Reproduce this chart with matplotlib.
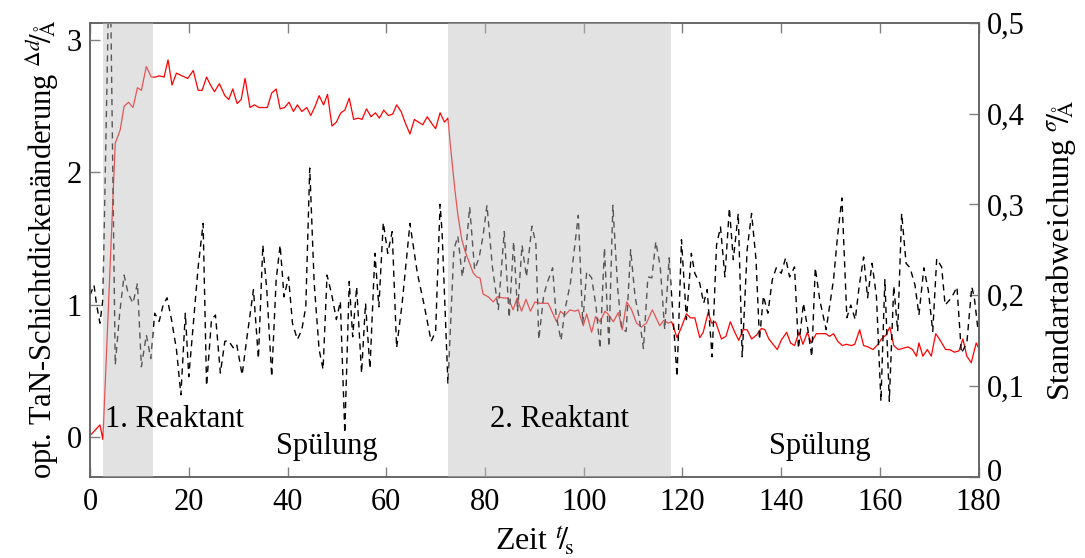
import matplotlib
matplotlib.use('Agg')
import matplotlib.pyplot as plt
from matplotlib.transforms import ScaledTranslation

plt.rcParams['font.family'] = 'serif'
plt.rcParams['font.serif'] = ['Liberation Serif', 'DejaVu Serif']
plt.rcParams['mathtext.fontset'] = 'stix'

# optische Schichtdickenaenderung (linke Achse)
t_dick = [0.0, 2.0, 2.6, 5.1, 6.1, 6.9, 7.8, 8.7, 9.6, 10.4, 11.4, 12.4, 13.2, 14.0, 15.0,
          15.8, 16.6, 17.5, 18.6, 19.8, 20.9, 21.9, 22.7, 23.6, 24.4, 25.2, 26.2, 27.3, 28.1,
          28.9, 29.8, 30.6, 31.4, 32.4, 33.3, 34.2, 35.0, 35.9, 36.8, 37.7, 38.5, 39.4, 40.3,
          41.2, 42.0, 42.9, 43.9, 44.7, 45.6, 46.4, 47.3, 48.1, 49.0, 49.9, 50.8, 51.6, 52.5,
          53.4, 54.3, 55.1, 56.0, 56.9, 57.8, 58.6, 59.5, 60.4, 61.3, 62.1, 63.0, 63.9, 64.8,
          65.7, 66.5, 67.4, 68.3, 69.2, 70.0, 70.9, 71.8, 72.5,
          73.0, 73.5, 73.9, 74.5, 75.3, 76.0, 76.6, 77.6, 78.3, 79.0, 79.6, 80.6, 81.7, 82.5,
          83.7, 84.7, 85.7, 86.5, 87.4, 88.3, 89.2, 90.1, 91.1, 92.8, 94.5, 95.3, 96.2, 97.2,
          98.2, 98.9, 99.9, 100.6, 101.6, 102.4, 103.3, 104.3, 104.9, 106.0, 107.0, 107.8,
          108.7, 109.7, 110.7, 111.7, 112.7, 113.9, 115.4, 116.2, 117.1, 117.8, 118.9, 119.8,
          120.8, 121.6, 122.5, 123.5, 124.2, 125.2, 125.9, 126.7, 127.9, 128.8, 129.7, 130.6,
          131.4, 132.3, 133.1, 134.0, 135.0, 136.0, 136.7, 137.5, 139.2, 140.0, 141.1, 141.9,
          142.7, 143.6, 144.4, 145.3, 146.1, 147.1, 148.1, 149.0, 149.8, 150.6, 151.5, 152.4,
          153.2, 154.2, 154.9, 155.9, 156.7, 157.6, 158.6, 159.6, 160.3, 161.2, 162.0, 162.8,
          163.7, 164.7, 165.7, 166.6, 167.4, 167.9, 168.7, 169.6, 170.4, 171.3, 172.2, 173.3,
          174.1, 175.1, 176.0, 176.8, 177.6, 178.5, 179.5, 180.0]
d_dick = [0.01, 0.09, -0.02, 2.22, 2.32, 2.50, 2.53, 2.49, 2.64, 2.62, 2.80, 2.72, 2.72, 2.73, 2.72,
          2.85, 2.66, 2.75, 2.73, 2.71, 2.77, 2.62, 2.62, 2.72, 2.66, 2.61, 2.67, 2.58, 2.55,
          2.63, 2.52, 2.55, 2.71, 2.49, 2.51, 2.49, 2.49, 2.49, 2.60, 2.63, 2.48, 2.49, 2.53,
          2.46, 2.51, 2.46, 2.49, 2.43, 2.50, 2.58, 2.51, 2.59, 2.35, 2.38, 2.45, 2.47, 2.56,
          2.40, 2.41, 2.40, 2.48, 2.42, 2.45, 2.41, 2.47, 2.43, 2.44, 2.51, 2.46, 2.37, 2.29,
          2.40, 2.38, 2.36, 2.42, 2.37, 2.33, 2.45, 2.38, 2.41,
          2.20, 2.02, 1.87, 1.68, 1.49, 1.40, 1.34, 1.24, 1.21, 1.20, 1.08, 1.06, 1.02, 1.06,
          1.05, 1.05, 0.96, 1.05, 0.95, 1.04, 0.95, 1.02, 1.01, 1.01, 0.87, 0.95, 0.92, 0.96,
          0.95, 0.96, 0.84, 0.93, 0.79, 0.91, 0.87, 0.95, 0.93, 0.87, 0.94, 0.81,
          1.02, 0.96, 0.86, 0.83, 0.86, 0.96, 0.84, 0.88, 0.86, 0.87, 0.75, 0.83,
          0.93, 0.90, 0.90, 0.75, 0.79, 0.94, 0.86, 0.87, 0.74, 0.76, 0.87, 0.79,
          0.73, 0.81, 0.81, 0.74, 0.77, 0.82, 0.81, 0.74, 0.66, 0.73, 0.79, 0.71,
          0.69, 0.79, 0.70, 0.79, 0.71, 0.78, 0.78, 0.78, 0.76, 0.78, 0.72, 0.69,
          0.70, 0.69, 0.70, 0.81, 0.69, 0.68, 0.66, 0.70, 0.74, 0.77, 0.83, 0.69,
          0.66, 0.67, 0.68, 0.66, 0.61, 0.71, 0.61, 0.66, 0.61, 0.78, 0.73, 0.66,
          0.66, 0.64, 0.65, 0.74, 0.61, 0.56, 0.71, 0.67]

# Standardabweichung (rechte Achse)
t_sigma = [0.0, 0.8, 1.3, 2.0, 2.6, 4.0, 5.1, 6.0, 6.9, 7.7, 8.7, 9.6, 10.4, 11.4, 12.3, 13.1,
           14.0, 14.8, 15.6, 16.5, 17.5, 18.4, 19.3, 20.0, 21.1, 21.9, 22.9, 23.6, 24.6, 25.4,
           26.4, 27.3, 28.0, 29.0, 29.7, 30.8, 31.7, 33.1, 34.1, 35.0, 35.8, 36.8, 37.7, 38.5,
           39.3, 40.2, 41.0, 42.0, 42.9, 43.7, 44.5, 45.4, 46.4, 47.2, 48.0, 48.9, 49.9, 50.7,
           51.6, 52.5, 53.2, 54.0, 55.0, 55.8, 56.7, 57.7, 58.5, 59.4, 60.3, 61.2, 62.1, 63.2,
           64.8, 66.3, 67.6, 69.1, 70.0, 70.9, 71.3, 72.5, 73.7, 74.5, 75.4, 76.0, 76.9, 77.9,
           78.8, 79.6, 80.4, 81.5, 82.7, 83.9, 84.9, 85.8, 86.6, 87.5, 88.4, 89.5, 90.3, 90.9,
           91.9, 92.7, 93.7, 94.4, 95.4, 96.2, 97.3, 98.1, 98.9, 99.8, 100.6, 101.6, 102.5,
           103.3, 104.2, 105.1, 105.9, 106.9, 107.7, 108.6, 109.5, 110.4, 111.2, 112.1, 113.0,
           113.8, 114.6, 115.5, 116.4, 117.3, 118.9, 119.8, 120.8, 121.8, 122.5, 123.5, 124.3,
           125.0, 126.0, 126.9, 127.7, 128.6, 129.5, 130.3, 131.3, 132.1, 133.1, 134.0, 134.9,
           135.6, 136.4, 137.3, 138.2, 139.0, 140.0, 140.9, 141.7, 142.7, 143.5, 144.5, 145.4,
           146.2, 146.9, 147.8, 149.1, 150.6, 151.4, 152.3, 153.3, 154.1, 155.0, 155.8, 156.7,
           157.5, 158.4, 159.3, 160.2, 161.0, 161.9, 162.8, 163.6, 164.4, 165.3, 166.1, 167.1,
           167.9, 168.9, 169.8, 170.7, 171.5, 172.5, 173.2, 174.5, 175.6, 176.5, 177.6, 178.6,
           179.1, 179.9]
sigma = [0.200, 0.211, 0.190, 0.169, 0.195, 0.600, 0.123, 0.180, 0.222, 0.202, 0.191, 0.213,
         0.121, 0.156, 0.130, 0.180, 0.171, 0.189, 0.197, 0.173, 0.140, 0.090, 0.180, 0.110,
         0.180, 0.231, 0.279, 0.100, 0.173, 0.178, 0.114, 0.149, 0.150, 0.142, 0.146, 0.112,
         0.150, 0.206, 0.130, 0.255, 0.206, 0.110, 0.217, 0.255, 0.198, 0.220, 0.169, 0.151,
         0.162, 0.187, 0.340, 0.213, 0.140, 0.118, 0.222, 0.202, 0.173, 0.193, 0.048, 0.215,
         0.154, 0.209, 0.114, 0.191, 0.119, 0.246, 0.187, 0.280, 0.246, 0.270, 0.142, 0.190,
         0.279, 0.224, 0.191, 0.149, 0.160, 0.300, 0.270, 0.102, 0.250, 0.265, 0.220, 0.242,
         0.297, 0.228, 0.241, 0.265, 0.299, 0.231, 0.184, 0.270, 0.175, 0.259, 0.182, 0.255,
         0.220, 0.276, 0.257, 0.151, 0.200, 0.215, 0.230, 0.178, 0.150, 0.184, 0.213, 0.250,
         0.288, 0.169, 0.226, 0.219, 0.187, 0.141, 0.252, 0.143, 0.299, 0.206, 0.162, 0.160,
         0.250, 0.198, 0.176, 0.141, 0.220, 0.219, 0.259, 0.231, 0.162, 0.241, 0.110, 0.261,
         0.173, 0.246, 0.224, 0.213, 0.191, 0.206, 0.132, 0.255, 0.275, 0.220, 0.296, 0.239,
         0.290, 0.132, 0.250, 0.290, 0.239, 0.151, 0.199, 0.180, 0.217, 0.230, 0.224, 0.241,
         0.220, 0.231, 0.141, 0.191, 0.162, 0.132, 0.230, 0.195, 0.162, 0.217, 0.264, 0.307,
         0.175, 0.189, 0.173, 0.210, 0.242, 0.197, 0.235, 0.198, 0.083, 0.217, 0.083, 0.210,
         0.160, 0.290, 0.235, 0.230, 0.211, 0.178, 0.230, 0.205, 0.160, 0.240, 0.231, 0.189,
         0.197, 0.209, 0.136, 0.147, 0.209, 0.198, 0.160]

phasen = [(2.6, 12.75), (72.5, 117.6)]
phasen_text = ['1. Reaktant', 'Spülung', '2. Reaktant', 'Spülung']
xticks = [0, 20, 40, 60, 80, 100, 120, 140, 160, 180]
yticks_l = [0, 1, 2, 3]
yticks_r = [0, 0.1, 0.2, 0.3, 0.4, 0.5]
ylabels_r = ['0', '0,1', '0,2', '0,3', '0,4', '0,5']

fs = 22
grau = '#808080'

fig = plt.figure(figsize=(10.85, 5.58), dpi=100)
ax1 = fig.add_axes([0.083, 0.146, 0.819, 0.813])
ax2 = ax1.twinx()

ax1.plot(t_dick, d_dick, color='red', lw=0.9)
ax2.plot(t_sigma, sigma, color='black', lw=1.0, dashes=(4.5, 3.5))

for a, b in phasen:
    ax2.axvspan(a, b, color='#c0c0c0', alpha=0.45, lw=0, zorder=3)

ax2.text(3.0, 0.0625, phasen_text[0], fontsize=fs, ha='left', va='center', zorder=5)
ax2.text(48.0, 0.033, phasen_text[1], fontsize=fs, ha='center', va='center', zorder=5)
ax2.text(95.0, 0.0625, phasen_text[2], fontsize=fs, ha='center', va='center', zorder=5)
ax2.text(147.8, 0.033, phasen_text[3], fontsize=fs, ha='center', va='center', zorder=5)

ax1.set_xlim(0, 180)
ax1.set_ylim(-0.3, 3.13)
ax2.set_ylim(0, 0.5)

ax1.set_xticks(xticks)
ax1.set_yticks(yticks_l)
ax2.set_yticks(yticks_r, labels=ylabels_r)

ax1.tick_params(axis='x', direction='in', top=True, bottom=True, length=7, width=1,
                color=grau, labelsize=fs, pad=8)
ax1.tick_params(axis='y', direction='in', left=True, right=False, length=7, width=1,
                color=grau, labelsize=fs, pad=6)
ax2.tick_params(axis='y', direction='in', left=False, right=True, length=7, width=1,
                color=grau, labelsize=fs, pad=6)

# rechte "0" etwas hoch, damit sie nicht an der "180" klebt
lab0 = ax2.get_yticklabels()[0]
lab0.set_transform(lab0.get_transform() + ScaledTranslation(0, 5 / 72, fig.dpi_scale_trans))

for ax in (ax1, ax2):
    for s in ax.spines.values():
        s.set_color('#666666')
        s.set_linewidth(1.2)

ax1.set_xlabel(r'Zeit $^{t}\!/\!_{\mathrm{s}}$', fontsize=fs + 1, labelpad=6)
ax1.set_ylabel(r'opt. TaN-Schichtdickenänderung $^{\Delta d}\!/\!_{\mathrm{\AA}}$', fontsize=fs, labelpad=4)
ax2.set_ylabel(r'Standartabweichung $^{\sigma}\!/\!_{\mathrm{\AA}}$', fontsize=fs + 1, labelpad=14)

fig.savefig('out.png', dpi=100)
